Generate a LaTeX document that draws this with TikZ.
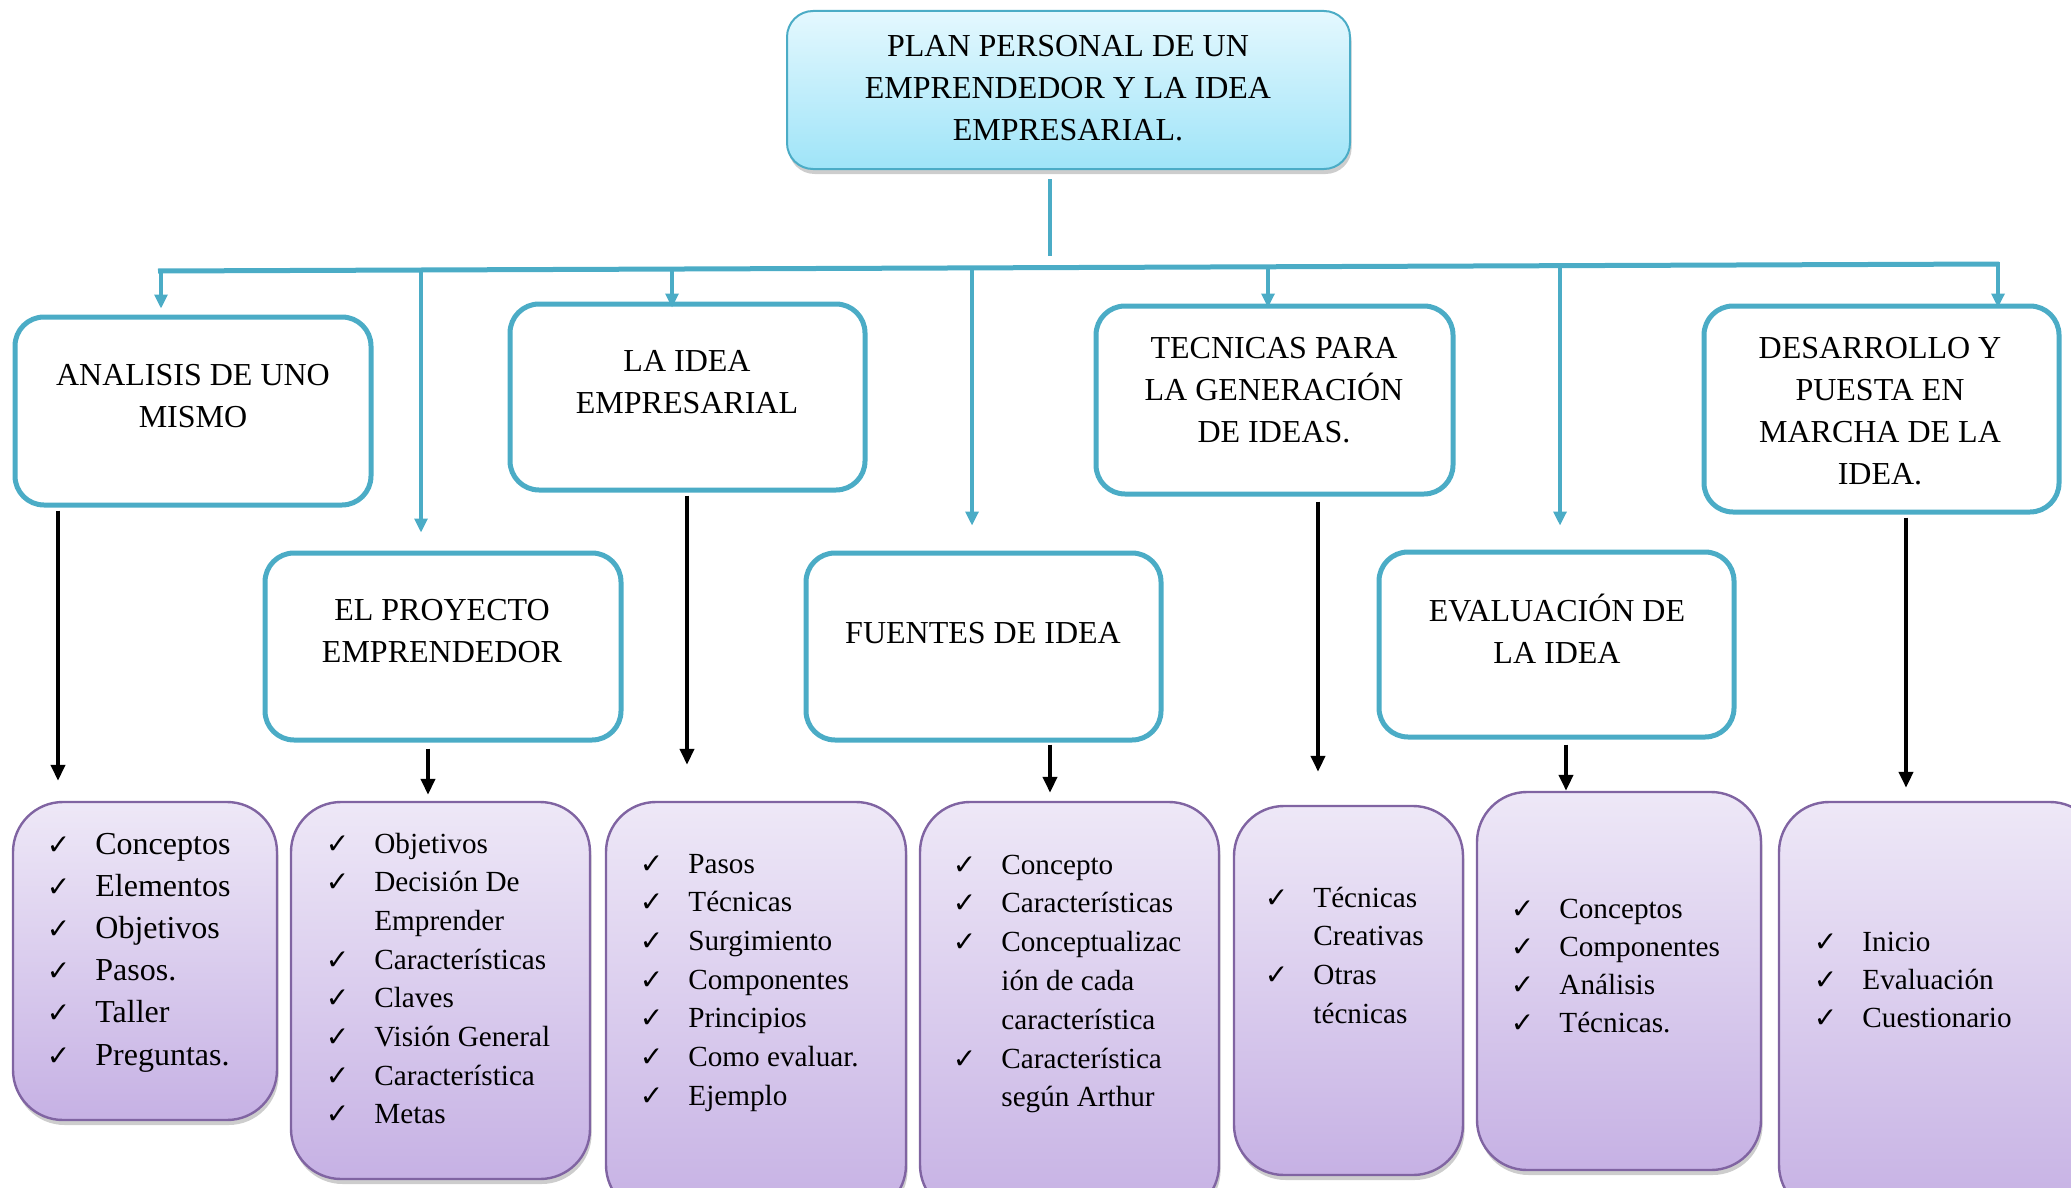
\documentclass[tikz,border=0pt]{standalone}
\usepackage{fontspec}
\setmainfont{Liberation Serif}
\newfontfamily\chk{DejaVu Sans}
\usetikzlibrary{arrows.meta,shadows}
\definecolor{accblue}{HTML}{4BACC6}
\definecolor{accpurple}{HTML}{8064A2}
\definecolor{toptop}{HTML}{E4F8FE}
\definecolor{topbot}{HTML}{9FE4F8}
\definecolor{purtop}{HTML}{EEE8F7}
\definecolor{purbot}{HTML}{C6B1E4}
% check mark hung to the left of an item
\newcommand\ck{\llap{{\chk\fontsize{14}{14}\selectfont ✓}\hspace{12.5pt}}}
\begin{document}
\begin{tikzpicture}[x=0.5pt,y=-0.5pt,
  boxshadow/.style={drop shadow={opacity=0.28,shadow xshift=0.8pt,shadow yshift=-2.5pt,fill=black!70}},
  titlebox/.style={draw=accblue,line width=1pt,rounded corners=13pt,top color=toptop,bottom color=topbot,boxshadow},
  topicbox/.style={draw=accblue,line width=2.5pt,rounded corners=14.5pt,fill=white},
  listbox/.style={draw=accpurple,line width=1.2pt,rounded corners=25pt,top color=purtop,bottom color=purbot,boxshadow},
  headtxt/.style={font=\fontsize{16}{21}\selectfont,align=center,inner sep=0pt},
  itemtxt/.style={font=\fontsize{14.6}{18}\selectfont,anchor=base west,inner sep=0pt},
  bigitem/.style={itemtxt,font=\fontsize{16}{19}\selectfont},
  busline/.style={accblue,line width=2.5pt},
  stemline/.style={accblue,line width=2pt},
  dropline/.style={accblue,line width=1.6pt,-{Triangle[width=6.5pt,length=7pt]}},
  downline/.style={black,line width=2pt,-{Triangle[width=7pt,length=8pt]}},
]
\useasboundingbox (0,0) rectangle (2071,1188);
\clip (0,0) rectangle (2071,1188);

% ---------- title ----------
\node[titlebox,minimum width=281.5pt,minimum height=79pt] (tp) at (1068.5,90) {};
\node[headtxt] (tpt) at (1068,88) {PLAN PERSONAL DE UN\\EMPRENDEDOR Y LA IDEA\\EMPRESARIAL.};

% ---------- topics ----------
\node[topicbox,minimum width=178pt,minimum height=94pt] (a1) at (193,411) {};
\node[topicbox,minimum width=178pt,minimum height=93.5pt] (a2) at (443,646.5) {};
\node[topicbox,minimum width=177.5pt,minimum height=93pt] (a3) at (687.5,397) {};
\node[topicbox,minimum width=177.5pt,minimum height=93.5pt] (a4) at (983.5,646.5) {};
\node[topicbox,minimum width=178.5pt,minimum height=94pt] (a5) at (1274.5,400) {};
\node[topicbox,minimum width=177.5pt,minimum height=92.5pt] (a6) at (1556.5,644.5) {};
\node[topicbox,minimum width=177.5pt,minimum height=103pt] (a7) at (1881.5,409) {};

\node[headtxt] (a1t) at (193,396) {ANALISIS DE UNO\\MISMO};
\node[headtxt] (a2t) at (442,631) {EL PROYECTO\\EMPRENDEDOR};
\node[headtxt] (a3t) at (687,382) {LA IDEA\\EMPRESARIAL};
\node[headtxt] (a4t) at (983,633) {FUENTES DE IDEA};
\node[headtxt] (a5t) at (1274,390) {TECNICAS PARA\\LA GENERACIÓN\\DE IDEAS.};
\node[headtxt] (a6t) at (1557,629) {EVALUACIÓN DE\\LA IDEA};
\node[headtxt] (a7t) at (1880,411) {DESARROLLO Y\\PUESTA EN\\MARCHA DE LA\\IDEA.};

% ---------- detail lists ----------
\node[listbox,minimum width=132pt,minimum height=159pt] (p1) at (145,961) {};
\node[listbox,minimum width=149.5pt,minimum height=188.5pt] (p2) at (440.5,990.5) {};
\node[listbox,minimum width=150pt,minimum height=206.5pt] (p3) at (756,1008.5) {};
\node[listbox,minimum width=149.5pt,minimum height=206.5pt] (p4) at (1069.5,1008.5) {};
\node[listbox,minimum width=114.5pt,minimum height=184.5pt] (p5) at (1348.5,990.5) {};
\node[listbox,minimum width=142pt,minimum height=189pt] (p6) at (1619,981) {};
\node[listbox,minimum width=160.5pt,minimum height=206.5pt] (p7) at (1939.5,1008.5) {};

\foreach \t [count=\i] in {\ck Conceptos,\ck Elementos,\ck Objetivos,\ck Pasos.,\ck Taller,\ck Preguntas.}
  \node[bigitem] (p1l\i) at (95,{854+42.2*(\i-1)}) {\t};
\foreach \t [count=\i] in {\ck Objetivos,\ck Decisión De,Emprender,\ck Características,\ck Claves,\ck Visión General,\ck Característica,\ck Metas}
  \node[itemtxt] (p2l\i) at (374,{853+38.7*(\i-1)}) {\t};
\foreach \t [count=\i] in {\ck Pasos,\ck Técnicas,\ck Surgimiento,\ck Componentes,\ck Principios,\ck Como evaluar.,\ck Ejemplo}
  \node[itemtxt] (p3l\i) at (688,{873+38.7*(\i-1)}) {\t};
\foreach \t [count=\i] in {\ck Concepto,\ck Características,\ck Conceptualizac,ión de cada,característica,\ck Característica,según Arthur}
  \node[itemtxt] (p4l\i) at (1001,{874+38.8*(\i-1)}) {\t};
\foreach \t [count=\i] in {\ck Técnicas,Creativas,\ck Otras,técnicas}
  \node[itemtxt] (p5l\i) at (1313,{907+38.7*(\i-1)}) {\t};
\foreach \t [count=\i] in {\ck Conceptos,\ck Componentes,\ck Análisis,\ck Técnicas.}
  \node[itemtxt] (p6l\i) at (1559,{918+38.3*(\i-1)}) {\t};
\foreach \t [count=\i] in {\ck Inicio,\ck Evaluación,\ck Cuestionario}
  \node[itemtxt] (p7l\i) at (1862,{951+38*(\i-1)}) {\t};

% ---------- distribution bus ----------
\coordinate (st) at (1050,256);
\coordinate (busL) at (158,271);
\coordinate (busR) at (1999,264);
\coordinate (d1) at (161,269);
\coordinate (d2) at (421,268);
\coordinate (d3) at (672,267);
\coordinate (d4) at (972,266);
\coordinate (d5) at (1268,265);
\coordinate (d6) at (1560,264);
\coordinate (d7) at (1998,262);

\draw[stemline,shorten <=4.5pt] (tp.south -| st) -- (st);
\draw[busline] (busL) -- (busR);
\draw[dropline,shorten >=3pt] (d1) -- (a1.north -| d1);
\draw[dropline,shorten >=9pt] (d2) -- (a2.north -| d2);
\draw[dropline,shorten >=-3pt] (d3) -- (a3.north -| d3);
\draw[dropline,shorten >=12.5pt] (d4) -- (a4.north -| d4);
\draw[dropline,shorten >=-2pt] (d5) -- (a5.north -| d5);
\draw[dropline,shorten >=12pt] (d6) -- (a6.north -| d6);
\draw[dropline,shorten >=-2pt] (d7) -- (a7.north -| d7);

% ---------- links to the lists ----------
\coordinate (k1) at (58,0);
\coordinate (k2) at (428,0);
\coordinate (k3) at (687,0);
\coordinate (k4) at (1050,0);
\coordinate (k5) at (1318,0);
\coordinate (k6) at (1566,0);
\coordinate (k7) at (1906,0);
\draw[downline,shorten <=1.5pt,shorten >=10pt] (a1.south -| k1) -- (p1.north -| k1);
\draw[downline,shorten <=3pt,shorten >=3pt] (a2.south -| k2) -- (p2.north -| k2);
\draw[downline,shorten <=1.5pt,shorten >=18pt] (a3.south -| k3) -- (p3.north -| k3);
\draw[downline,shorten <=1pt,shorten >=4pt] (a4.south -| k4) -- (p4.north -| k4);
\draw[downline,shorten <=2.5pt,shorten >=16.5pt] (a5.south -| k5) -- (p5.north -| k5);
\draw[downline,shorten <=2.5pt,shorten >=0pt] (a6.south -| k6) -- (p6.north -| k6);
\draw[downline,shorten <=1.5pt,shorten >=6.5pt] (a7.south -| k7) -- (p7.north -| k7);
\end{tikzpicture}
\end{document}
